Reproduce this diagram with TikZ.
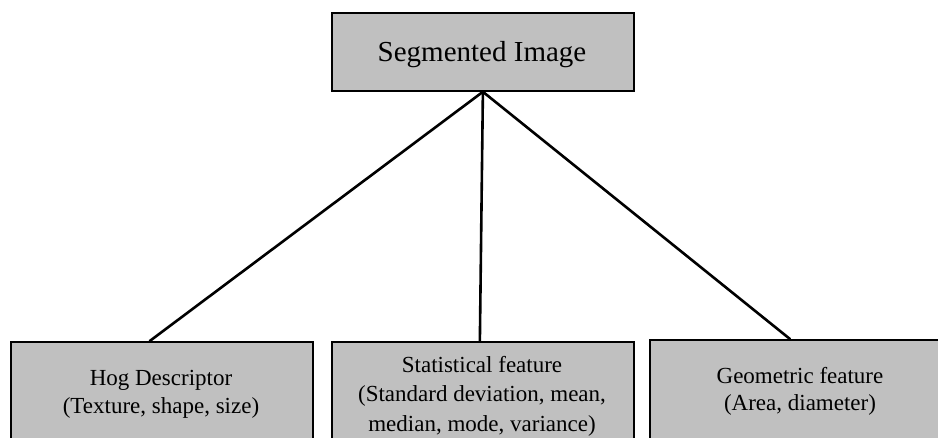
\documentclass[tikz,border=0pt]{standalone}
\usepackage{fontspec}
\setmainfont{Liberation Serif}
\usetikzlibrary{calc}
\definecolor{boxgray}{HTML}{C0C0C0}
\tikzset{
  box/.style={draw=black, fill=boxgray, line width=1.8pt, anchor=north west,
    minimum width=302pt, inner sep=0pt},
  lbl/.style={align=center, anchor=base, inner sep=0pt, text=black},
  link/.style={line width=2.6pt, line cap=round}
}
\begin{document}
\begin{tikzpicture}[x=1pt, y=-1pt]
  \useasboundingbox (0,0) rectangle (938,437);
  \begin{scope}
    \clip (0,0) rectangle (938,437);
    % root box
    \node[box, minimum height=78pt] (root) at (331,12) {};
    \node[lbl, font=\fontsize{29}{34}\selectfont] (roott) at (482,61) {Segmented Image};
    % feature boxes (running off the lower edge)
    \node[box, minimum height=140pt] (hog)  at (10,341) {};
    \node[box, minimum height=140pt] (stat) at (331,341) {};
    \node[box, minimum height=140pt] (geo)  at (649,339) {};
    % labels, placed by the baseline of their last line
    \node[lbl, font=\fontsize{23}{27.5}\selectfont] (hogt) at (161,413)
      {Hog Descriptor\\(Texture, shape, size)};
    \node[lbl, font=\fontsize{23}{29.5}\selectfont] (statt) at (482,431)
      {Statistical feature\\(Standard deviation, mean,\\median, mode, variance)};
    \node[lbl, font=\fontsize{23}{27}\selectfont] (geot) at (800,410)
      {Geometric feature\\(Area, diameter)};
    % attachment points on the top edges
    \coordinate (hogin)  at ($(hog.north west)!0.46!(hog.north east)$);
    \coordinate (statin) at ($(stat.north west)!0.49!(stat.north east)$);
    \coordinate (geoin)  at ($(geo.north west)!0.464!(geo.north east)$);
    % connectors
    \draw[link] (root.south) -- (hogin);
    \draw[link] (root.south) -- (statin);
    \draw[link] (root.south) -- (geoin);
  \end{scope}
\end{tikzpicture}
\end{document}
